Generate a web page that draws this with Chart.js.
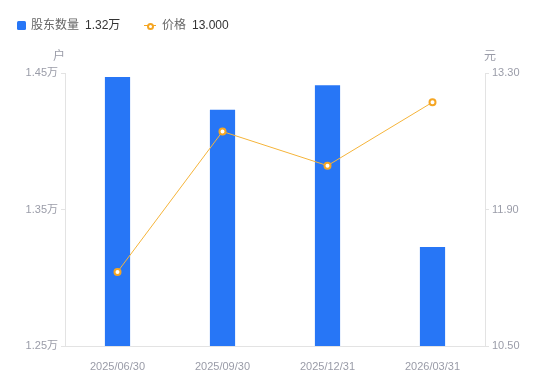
<!DOCTYPE html>
<html><head><meta charset="utf-8">
<script src="https://cdn.jsdelivr.net/npm/chart.js@4"></script>
<style>
html,body{margin:0;padding:0;background:#fff;}
#wrap{position:relative;width:550px;height:381px;font-family:"Liberation Sans","Noto Sans CJK SC",sans-serif;}
#legend{position:absolute;left:0;top:0;width:550px;height:48px;font-size:12px;}
.li{position:absolute;top:18px;height:14px;line-height:14px;white-space:nowrap;}
.nm{color:#666;}
.vl{color:#333;margin-left:6px;}
.sq{display:inline-block;width:9px;height:9px;background:#2776f6;border-radius:1.5px;vertical-align:-1px;margin-right:5px;}
.ln{display:inline-block;position:relative;width:12px;height:9px;margin-right:6px;vertical-align:-1px;}
.ln:before{content:"";position:absolute;left:0;right:0;top:4px;height:1px;background:#f5a623;}
.ln:after{content:"";position:absolute;left:3px;top:1.5px;width:3px;height:3px;border:2px solid #f5a623;border-radius:50%;background:#fff;}
canvas{position:absolute;left:0;top:0;}
</style></head>
<body>
<div id="wrap">
<canvas id="c" width="550" height="381"></canvas>
<div id="legend">
  <div class="li" style="left:17px"><span class="sq"></span><span class="nm">股东数量</span><span class="vl">1.32万</span></div>
  <div class="li" style="left:144px"><span class="ln"></span><span class="nm">价格</span><span class="vl">13.000</span></div>
</div>
</div>
<script>
const categories = ["2025/06/30","2025/09/30","2025/12/31","2026/03/31"];
const holders = [14470, 14230, 14410, 13225];
const prices = [11.26, 12.70, 12.35, 13.00];
const leftTicks = [12500, 13500, 14500];
const rightTicks = [10.50, 11.90, 13.30];
const leftUnit = "户";
const rightUnit = "元";

const FONT = '"Liberation Sans","Noto Sans CJK SC",sans-serif';
const GRAY = '#9a9ca8';
const AXIS = '#e3e3e3';

const unitPlugin = {
  id:'units',
  afterDraw(chart){
    const ctx = chart.ctx, a = chart.chartArea;
    ctx.save();
    ctx.font = '12px ' + FONT;
    ctx.fillStyle = GRAY;
    ctx.textAlign = 'center';
    ctx.textBaseline = 'middle';
    ctx.fillText(leftUnit, a.left - 6, a.top - 16);
    ctx.fillText(rightUnit, a.right + 5, a.top - 16);
    ctx.restore();
  }
};

new Chart(document.getElementById('c'), {
  data:{
    labels:categories,
    datasets:[
      {type:'line', label:'价格', data:prices, yAxisID:'y1', borderColor:'#f5b43a', borderWidth:1,
       pointRadius:3, pointBorderWidth:2, pointBackgroundColor:'#fff', pointBorderColor:'#f5a623', tension:0, order:0},
      {type:'bar', label:'股东数量', data:holders, yAxisID:'y', backgroundColor:'#2776f6',
       barPercentage:0.24, categoryPercentage:1, order:1}
    ]
  },
  options:{
    responsive:false, animation:false,
    layout:{padding:{top:73,left:0,right:0,bottom:0}},
    plugins:{legend:{display:false}, tooltip:{enabled:false}},
    scales:{
      x:{
        grid:{display:false},
        border:{display:true,color:AXIS},
        ticks:{color:GRAY,font:{size:11,family:FONT},padding:6,maxRotation:0},
        afterFit(s){s.height=35;}
      },
      y:{
        position:'left', min:12500, max:14500,
        afterBuildTicks(s){s.ticks = leftTicks.map(v=>({value:v}));},
        grid:{drawOnChartArea:false, color:AXIS, tickLength:4},
        border:{display:true,color:AXIS},
        ticks:{color:GRAY,font:{size:11,family:FONT},padding:3,
          callback:v=>(v/10000).toFixed(2)+'万'},
        afterFit(s){s.width=65;}
      },
      y1:{
        position:'right', min:10.5, max:13.3,
        afterBuildTicks(s){s.ticks = rightTicks.map(v=>({value:v}));},
        grid:{drawOnChartArea:false, color:AXIS, tickLength:4},
        border:{display:true,color:AXIS},
        ticks:{color:GRAY,font:{size:11,family:FONT},padding:3,
          callback:v=>Number(v).toFixed(2)},
        afterFit(s){s.width=65;}
      }
    }
  },
  plugins:[unitPlugin]
});
</script>
</body></html>
